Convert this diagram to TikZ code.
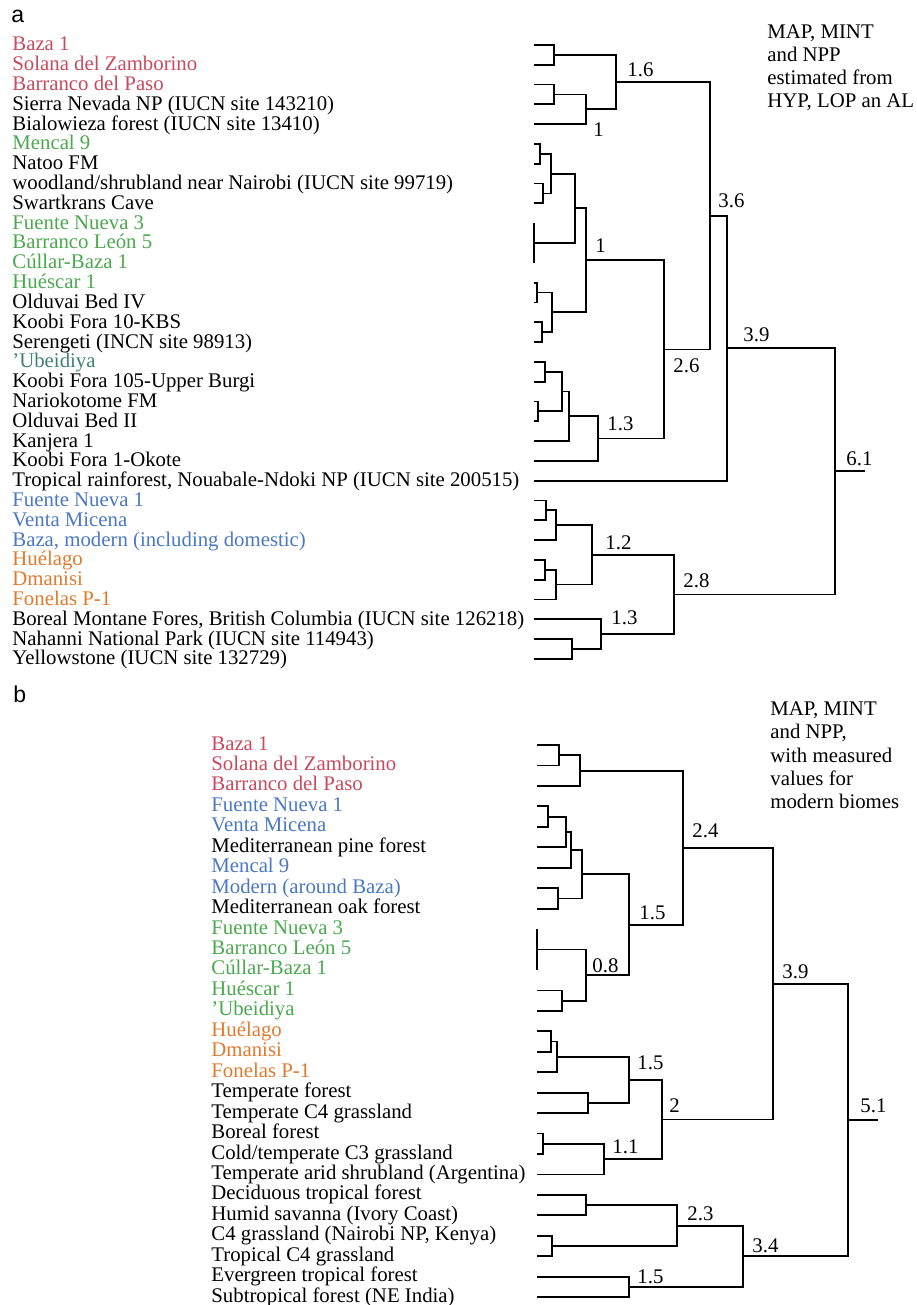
\documentclass[tikz,border=0pt]{standalone}
\usepackage{fontspec}
\setmainfont{Liberation Serif}
\newfontfamily\panelfont{Liberation Sans}
\definecolor{ccbaza}{rgb}{0.78,0.29,0.37}
\definecolor{ccgreen}{rgb}{0.30,0.66,0.31}
\definecolor{ccblue}{rgb}{0.29,0.47,0.76}
\definecolor{ccorange}{rgb}{0.88,0.48,0.18}
\definecolor{ccteal}{rgb}{0.25,0.50,0.47}
\tikzset{
  leaf/.style={anchor=base west, inner sep=0pt, font=\fontsize{10.4}{12}\selectfont},
  dist/.style={anchor=base west, inner sep=0pt, font=\fontsize{10.4}{12}\selectfont},
  panel/.style={anchor=base west, inner sep=0pt, font=\panelfont\fontsize{11.5}{13}\selectfont},
  branch/.style={line width=0.9pt}
}
\begin{document}
\begin{tikzpicture}[x=0.5pt,y=-0.5pt]
    \useasboundingbox (0,0) rectangle (916,1305);
    % panel a: sites
    \node[panel] (lblA) at (11,23) {a};
    \node[leaf,color=ccbaza] (aBaza) at (12,51) {Baza 1};
    \node[leaf,color=ccbaza] (aSolana) at (12,70.8) {Solana del Zamborino};
    \node[leaf,color=ccbaza] (aPaso) at (12,90.6) {Barranco del Paso};
    \node[leaf] (aSierra) at (12,110.4) {Sierra Nevada NP (IUCN site 143210)};
    \node[leaf] (aBialo) at (12,130.2) {Bialowieza forest (IUCN site 13410)};
    \node[leaf,color=ccgreen] (aMencal) at (12,150) {Mencal 9};
    \node[leaf] (aNatoo) at (12,169.8) {Natoo FM};
    \node[leaf] (aWood) at (12,189.6) {woodland/shrubland near Nairobi (IUCN site 99719)};
    \node[leaf] (aSwart) at (12,209.4) {Swartkrans Cave};
    \node[leaf,color=ccgreen] (aFN3) at (12,229.2) {Fuente Nueva 3};
    \node[leaf,color=ccgreen] (aBL5) at (12,249) {Barranco León 5};
    \node[leaf,color=ccgreen] (aCullar) at (12,268.8) {Cúllar-Baza 1};
    \node[leaf,color=ccgreen] (aHuescar) at (12,288.6) {Huéscar 1};
    \node[leaf] (aOldIV) at (12,308.4) {Olduvai Bed IV};
    \node[leaf] (aKBS) at (12,328.2) {Koobi Fora 10-KBS};
    \node[leaf] (aSeren) at (12,348) {Serengeti (INCN site 98913)};
    \node[leaf,color=ccteal] (aUbei) at (12,367.8) {’Ubeidiya};
    \node[leaf] (aBurgi) at (12,387.6) {Koobi Fora 105-Upper Burgi};
    \node[leaf] (aNario) at (12,407.4) {Nariokotome FM};
    \node[leaf] (aOldII) at (12,427.2) {Olduvai Bed II};
    \node[leaf] (aKanjera) at (12,447) {Kanjera 1};
    \node[leaf] (aOkote) at (12,466.8) {Koobi Fora 1-Okote};
    \node[leaf] (aTropic) at (12,486.6) {Tropical rainforest, Nouabale-Ndoki NP (IUCN site 200515)};
    \node[leaf,color=ccblue] (aFN1) at (12,506.4) {Fuente Nueva 1};
    \node[leaf,color=ccblue] (aVenta) at (12,526.2) {Venta Micena};
    \node[leaf,color=ccblue] (aModern) at (12,546) {Baza, modern (including domestic)};
    \node[leaf,color=ccorange] (aHuelago) at (12,565.8) {Huélago};
    \node[leaf,color=ccorange] (aDmanisi) at (12,585.6) {Dmanisi};
    \node[leaf,color=ccorange] (aFonelas) at (12,605.4) {Fonelas P-1};
    \node[leaf] (aBoreal) at (12,625.2) {Boreal Montane Fores, British Columbia (IUCN site 126218)};
    \node[leaf] (aNahanni) at (12,645) {Nahanni National Park (IUCN site 114943)};
    \node[leaf] (aYellow) at (12,664.8) {Yellowstone (IUCN site 132729)};
    % panel a: note
    \node[leaf] (noteA1) at (767,39) {MAP, MINT};
    \node[leaf] (noteA2) at (767,62) {and NPP};
    \node[leaf] (noteA3) at (767,85) {estimated from};
    \node[leaf] (noteA4) at (767,108) {HYP, LOP an AL};
    % panel a: tree
    \draw[branch] (534,45) -| (554,64.8) -- (534,64.8);
    \draw[branch] (534,84.6) -| (554,104.4) -- (534,104.4);
    \draw[branch] (554,94.5) -| (586,124.2) -- (534,124.2);
    \draw[branch] (554,54.9) -| (616,109.35) -- (586,109.35);
    \draw[branch] (534,144) -| (540,163.8) -- (534,163.8);
    \draw[branch] (534,183.6) -| (543,203.4) -- (534,203.4);
    \draw[branch] (540,153.9) -| (551,193.5) -- (543,193.5);
    \draw[branch] (534,223.2) -- (534,262.8);
    \draw[branch] (551,173.7) -| (575,243) -- (534,243);
    \draw[branch] (534,282.6) -| (537,302.4) -- (534,302.4);
    \draw[branch] (534,322.2) -| (542,342) -- (534,342);
    \draw[branch] (537,292.5) -| (552,332.1) -- (542,332.1);
    \draw[branch] (575,208.35) -| (586,312.3) -- (552,312.3);
    \draw[branch] (534,361.8) -| (545,381.6) -- (534,381.6);
    \draw[branch] (534,401.4) -| (538,421.2) -- (534,421.2);
    \draw[branch] (545,371.7) -| (562,411.3) -- (538,411.3);
    \draw[branch] (562,391.5) -| (569,441) -- (534,441);
    \draw[branch] (569,416.25) -| (598,460.8) -- (534,460.8);
    \draw[branch] (586,260.3) -| (664,438.5) -- (598,438.5);
    \draw[branch] (616,82.1) -| (710,349.4) -- (664,349.4);
    \draw[branch] (710,215.8) -| (727,480.6) -- (534,480.6);
    \draw[branch] (534,500.4) -| (546,520.2) -- (534,520.2);
    \draw[branch] (546,510.3) -| (556,540) -- (534,540);
    \draw[branch] (534,559.8) -| (545,579.6) -- (534,579.6);
    \draw[branch] (545,569.7) -| (556,599.4) -- (534,599.4);
    \draw[branch] (556,525.15) -| (592,584.55) -- (556,584.55);
    \draw[branch] (534,639) -| (572,658.8) -- (534,658.8);
    \draw[branch] (534,619.2) -| (601,648.9) -- (572,648.9);
    \draw[branch] (592,554.85) -| (674,634.05) -- (601,634.05);
    \draw[branch] (727,348.2) -| (835,594.45) -- (674,594.45);
    \draw[branch] (835,471.3) -- (865,471.3);
    % panel a: distances
    \node[dist] (dA1) at (627,77) {1.6};
    \node[dist] (dA2) at (593,137) {1};
    \node[dist] (dA3) at (595,252) {1};
    \node[dist] (dA4) at (718,207) {3.6};
    \node[dist] (dA5) at (673,372) {2.6};
    \node[dist] (dA6) at (743,341) {3.9};
    \node[dist] (dA7) at (607,430) {1.3};
    \node[dist] (dA8) at (605,549) {1.2};
    \node[dist] (dA9) at (683,587) {2.8};
    \node[dist] (dA10) at (611,624) {1.3};
    \node[dist] (dA11) at (846,465) {6.1};
    % panel b: sites
    \node[panel] (lblB) at (13,702) {b};
    \node[leaf,color=ccbaza] (bBaza) at (211,750) {Baza 1};
    \node[leaf,color=ccbaza] (bSolana) at (211,770.45) {Solana del Zamborino};
    \node[leaf,color=ccbaza] (bPaso) at (211,790.9) {Barranco del Paso};
    \node[leaf,color=ccblue] (bFN1) at (211,811.35) {Fuente Nueva 1};
    \node[leaf,color=ccblue] (bVenta) at (211,831.8) {Venta Micena};
    \node[leaf] (bPine) at (211,852.25) {Mediterranean pine forest};
    \node[leaf,color=ccblue] (bMencal) at (211,872.7) {Mencal 9};
    \node[leaf,color=ccblue] (bModern) at (211,893.15) {Modern (around Baza)};
    \node[leaf] (bOak) at (211,913.6) {Mediterranean oak forest};
    \node[leaf,color=ccgreen] (bFN3) at (211,934.05) {Fuente Nueva 3};
    \node[leaf,color=ccgreen] (bBL5) at (211,954.5) {Barranco León 5};
    \node[leaf,color=ccgreen] (bCullar) at (211,974.95) {Cúllar-Baza 1};
    \node[leaf,color=ccgreen] (bHuescar) at (211,995.4) {Huéscar 1};
    \node[leaf,color=ccgreen] (bUbei) at (211,1015.85) {’Ubeidiya};
    \node[leaf,color=ccorange] (bHuelago) at (211,1036.3) {Huélago};
    \node[leaf,color=ccorange] (bDmanisi) at (211,1056.75) {Dmanisi};
    \node[leaf,color=ccorange] (bFonelas) at (211,1077.2) {Fonelas P-1};
    \node[leaf] (bTempF) at (211,1097.65) {Temperate forest};
    \node[leaf] (bTempG) at (211,1118.1) {Temperate C4 grassland};
    \node[leaf] (bBoreal) at (211,1138.55) {Boreal forest};
    \node[leaf] (bColdG) at (211,1159) {Cold/temperate C3 grassland};
    \node[leaf] (bArid) at (211,1179.45) {Temperate arid shrubland (Argentina)};
    \node[leaf] (bDecid) at (211,1199.9) {Deciduous tropical forest};
    \node[leaf] (bSavanna) at (211,1220.35) {Humid savanna (Ivory Coast)};
    \node[leaf] (bNairobi) at (211,1240.8) {C4 grassland (Nairobi NP, Kenya)};
    \node[leaf] (bTropG) at (211,1261.25) {Tropical C4 grassland};
    \node[leaf] (bEver) at (211,1281.7) {Evergreen tropical forest};
    \node[leaf] (bSubtrop) at (211,1302.15) {Subtropical forest (NE India)};
    % panel b: note
    \node[leaf] (noteB1) at (770,715) {MAP, MINT};
    \node[leaf] (noteB2) at (770,738.5) {and NPP,};
    \node[leaf] (noteB3) at (770,762) {with measured};
    \node[leaf] (noteB4) at (770,785) {values for};
    \node[leaf] (noteB5) at (770,808) {modern biomes};
    % panel b: tree
    \draw[branch] (537,745) -| (559,765.45) -- (537,765.45);
    \draw[branch] (559,755.2) -| (580,785.9) -- (537,785.9);
    \draw[branch] (537,806.35) -| (548,826.8) -- (537,826.8);
    \draw[branch] (548,816.6) -| (566,847.25) -- (537,847.25);
    \draw[branch] (566,831.9) -| (571,867.7) -- (537,867.7);
    \draw[branch] (537,888.15) -| (558,908.6) -- (537,908.6);
    \draw[branch] (571,849.8) -| (582,898.4) -- (558,898.4);
    \draw[branch] (537,929.05) -- (537,969.95);
    \draw[branch] (537,990.4) -| (562,1010.85) -- (537,1010.85);
    \draw[branch] (537,949.5) -| (586,1000.6) -- (562,1000.6);
    \draw[branch] (582,874.1) -| (629,975.1) -- (586,975.1);
    \draw[branch] (580,770.6) -| (683,924.6) -- (629,924.6);
    \draw[branch] (537,1031.3) -| (551,1051.75) -- (537,1051.75);
    \draw[branch] (551,1041.5) -| (557,1072.2) -- (537,1072.2);
    \draw[branch] (537,1092.65) -| (588,1113.1) -- (537,1113.1);
    \draw[branch] (557,1056.9) -| (629,1102.9) -- (588,1102.9);
    \draw[branch] (537,1133.55) -| (543,1154) -- (537,1154);
    \draw[branch] (543,1143.8) -| (604,1174.45) -- (537,1174.45);
    \draw[branch] (629,1079.9) -| (662,1159.1) -- (604,1159.1);
    \draw[branch] (683,847.6) -| (773,1119.5) -- (662,1119.5);
    \draw[branch] (537,1194.9) -| (586,1215.35) -- (537,1215.35);
    \draw[branch] (537,1235.8) -| (552,1256.25) -- (537,1256.25);
    \draw[branch] (586,1205.1) -| (677,1246) -- (552,1246);
    \draw[branch] (537,1276.7) -| (629,1297.15) -- (537,1297.15);
    \draw[branch] (677,1225.6) -| (743,1286.9) -- (629,1286.9);
    \draw[branch] (773,983.6) -| (848,1256.3) -- (743,1256.3);
    \draw[branch] (848,1119.9) -- (878,1119.9);
    % panel b: distances
    \node[dist] (dB1) at (692,837) {2.4};
    \node[dist] (dB2) at (639,919) {1.5};
    \node[dist] (dB3) at (592,972) {0.8};
    \node[dist] (dB4) at (637,1069) {1.5};
    \node[dist] (dB5) at (669,1112) {2};
    \node[dist] (dB6) at (612,1153) {1.1};
    \node[dist] (dB7) at (687,1220) {2.3};
    \node[dist] (dB8) at (782,978) {3.9};
    \node[dist] (dB9) at (752,1252) {3.4};
    \node[dist] (dB10) at (637,1283) {1.5};
    \node[dist] (dB11) at (860,1112) {5.1};
\end{tikzpicture}
\end{document}
